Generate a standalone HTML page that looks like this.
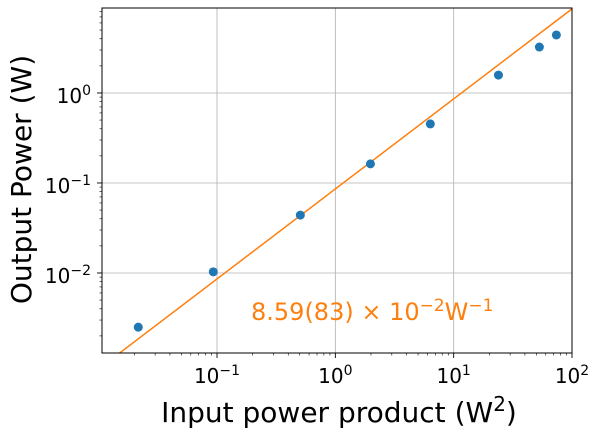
<!DOCTYPE html>
<html><head><meta charset="utf-8"><style>
body{margin:0;background:#fff;}
svg text{font-family:"DejaVu Sans","Liberation Sans",sans-serif;}
</style></head><body>
<svg id="chart" width="600" height="439" xmlns="http://www.w3.org/2000/svg"></svg>
<script>
const xInput = [0.0216, 0.093, 0.506, 1.98, 6.35, 23.9, 53, 73.8];
const yOutput = [0.0025, 0.0103, 0.044, 0.163, 0.453, 1.58, 3.24, 4.41];
const fitSlope = 0.0859;
const xTickExps = [-1, 0, 1, 2];
const yTickExps = [-2, -1, 0];

const L=102,R=572,T=8,B=353;
const xmin=-1.972,xmax=2,ymin=-2.889,ymax=0.944;
const sx=v=>L+(Math.log10(v)-xmin)/(xmax-xmin)*(R-L);
const sy=v=>B-(Math.log10(v)-ymin)/(ymax-ymin)*(B-T);
const NS="http://www.w3.org/2000/svg";
const svg=document.getElementById('chart');
function mk(tag,attrs,parent){const e=document.createElementNS(NS,tag);for(const k in attrs)e.setAttribute(k,attrs[k]);(parent||svg).appendChild(e);return e;}

xTickExps.forEach(e=>{const x=sx(Math.pow(10,e));
 const g=mk('line',{x1:x,x2:x,y1:T,y2:B,stroke:'#b0b0b0','stroke-width':0.8});
 
 
});
yTickExps.forEach(e=>{const y=sy(Math.pow(10,e));
 const g=mk('line',{x1:L,x2:R,y1:y,y2:y,stroke:'#b0b0b0','stroke-width':0.8});
 
 
});
for(let e=-2;e<=2;e++)for(let m=2;m<=9;m++){const v=m*Math.pow(10,e);const lv=Math.log10(v);
 if(lv>xmin&&lv<xmax){const x=sx(v);mk('line',{x1:x,x2:x,y1:B,y2:B+2.5,stroke:'#000','stroke-width':0.6});}}
for(let e=-3;e<=0;e++)for(let m=2;m<=9;m++){const v=m*Math.pow(10,e);const lv=Math.log10(v);
 if(lv>ymin&&lv<ymax){const y=sy(v);mk('line',{x1:L-2.5,x2:L,y1:y,y2:y,stroke:'#000','stroke-width':0.6});}}
xTickExps.forEach(e=>{const x=sx(Math.pow(10,e));
 mk('line',{x1:x,x2:x,y1:B,y2:B+5,stroke:'#000','stroke-width':0.9});
 const t=mk('text',{x:x,y:B+30,'font-size':20,'text-anchor':'middle'});
 
 
 t.innerHTML='10<tspan dy="-8" font-size="14">'+(e<0?'\u2212'+(-e):e)+'</tspan>';
});
yTickExps.forEach(e=>{const y=sy(Math.pow(10,e));
 mk('line',{x1:L-5,x2:L,y1:y,y2:y,stroke:'#000','stroke-width':0.9});
 const t=mk('text',{x:L-11,y:y+10,'font-size':20,'text-anchor':'end'});
 
 
 t.innerHTML='10<tspan dy="-8" font-size="14">'+(e<0?'\u2212'+(-e):e)+'</tspan>';
});
const defs=mk('defs',{});const cp=mk('clipPath',{id:'cp'},defs);mk('rect',{x:L,y:T,width:R-L,height:B-T},cp);
const x0=Math.pow(10,xmin),x1=Math.pow(10,xmax);
const fl=mk('line',{x1:sx(x0),y1:sy(fitSlope*x0),x2:sx(x1),y2:sy(fitSlope*x1),stroke:'#ff7f0e','stroke-width':1.5,'clip-path':'url(#cp)'});


xInput.forEach((v,i)=>{
 const c=mk('circle',{cx:sx(v),cy:sy(yOutput[i]),r:4.5,fill:'#1f77b4'});
 
 
});
const fr=mk('rect',{x:L,y:T,width:R-L,height:B-T,fill:'none',stroke:'#000','stroke-width':1});


const an=mk('text',{x:251,y:320,'font-size':24,fill:'#ff7f0e'});


an.innerHTML='8.59(83) \u00d7 10<tspan dy="-9" font-size="17">\u22122</tspan><tspan dy="9">W</tspan><tspan dy="-9" font-size="17">\u22121</tspan>';
const xt=mk('text',{x:(L+R)/2+2,y:422,'font-size':28,'text-anchor':'middle'});


xt.innerHTML='Input power product (W<tspan dy="-11" font-size="20">2</tspan><tspan dy="11">)</tspan>';
const yt=mk('text',{x:0,y:0,'font-size':28,'text-anchor':'middle',transform:'translate(31,'+((T+B)/2-1)+') rotate(-90)'});


yt.textContent='Output Power (W)';
</script>
</body></html>
